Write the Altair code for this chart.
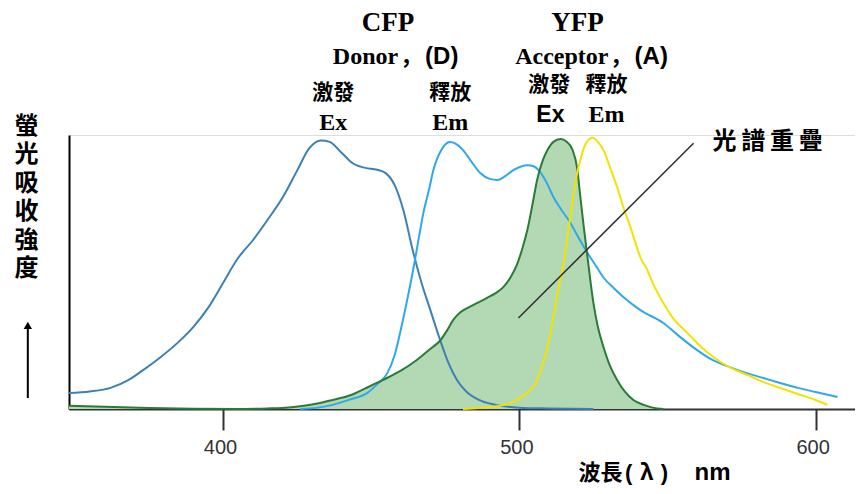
import altair as alt
import pandas as pd

# ---------------- data ----------------
cfp_ex_nm = [348, 355, 362, 368, 373, 379, 385, 390, 395, 400, 405, 410, 415, 420, 425, 429, 433,
             436, 440, 444, 448, 452, 455, 458, 461, 464, 467, 470, 473, 476, 479, 482, 486, 492,
             500, 510, 525]
cfp_ex_v = [0.058, 0.064, 0.077, 0.105, 0.142, 0.19, 0.245, 0.30, 0.37, 0.46, 0.55, 0.615, 0.69,
            0.77, 0.87, 0.95, 0.98, 0.975, 0.935, 0.895, 0.88, 0.873, 0.86, 0.815, 0.72, 0.58,
            0.46, 0.36, 0.26, 0.17, 0.105, 0.065, 0.035, 0.015, 0.005, 0.002, 0.0]

cfp_em_nm = [426, 432, 437, 443, 448.6, 452, 455.4, 458, 460, 462, 464.2, 466, 467.6, 469.5, 471,
             474.3, 476.7, 479, 481, 484, 486.8, 490, 492.6, 495, 498, 502.7, 505, 507, 509.5,
             511.5, 514, 517.2, 520, 523, 526, 528.4, 532, 535, 541, 548.6, 554, 560, 565, 571,
             577, 582.4, 588, 594, 600, 607.4]
cfp_em_v = [0.0, 0.005, 0.015, 0.035, 0.058, 0.09, 0.13, 0.2, 0.29, 0.39, 0.51, 0.62, 0.715, 0.80,
            0.872, 0.956, 0.974, 0.965, 0.945, 0.9, 0.861, 0.84, 0.836, 0.848, 0.872, 0.89, 0.885,
            0.865, 0.82, 0.774, 0.73, 0.68, 0.625, 0.57, 0.52, 0.48, 0.44, 0.41, 0.36, 0.314,
            0.265, 0.215, 0.18, 0.153, 0.13, 0.113, 0.095, 0.077, 0.062, 0.044]

yfp_ex_nm = [348, 360, 375, 390, 405, 415, 420, 426, 431.8, 437, 443, 448, 454, 460, 465.5, 470,
             473.3, 475.5, 477.7, 480, 482.4, 486, 489, 492, 494.6, 497, 499.3, 501, 502.7, 504.5,
             506, 508, 509.5, 511.5, 513.9, 516, 518, 519.5, 520.6, 521.8, 523, 525, 526.5, 528.4,
             530.5, 533, 535.5, 538.5, 542, 545, 548.6]
yfp_ex_v = [0.012, 0.008, 0.004, 0.001, 0.0, 0.002, 0.004, 0.01, 0.02, 0.033, 0.05, 0.075, 0.106,
            0.14, 0.18, 0.22, 0.25, 0.285, 0.325, 0.352, 0.368, 0.388, 0.405, 0.423, 0.445, 0.48,
            0.53, 0.585, 0.653, 0.75, 0.836, 0.91, 0.945, 0.975, 0.985, 0.975, 0.945, 0.88, 0.774,
            0.66, 0.555, 0.387, 0.30, 0.226, 0.16, 0.106, 0.065, 0.033, 0.015, 0.005, 0.0]

yfp_em_nm = [481, 490, 495, 499.3, 502, 504.7, 506.5, 508, 510, 511.5, 513, 514.9, 516.5, 518.2,
             519.5, 520.6, 522.5, 524.7, 526.5, 528.4, 530.5, 533, 535, 537.5, 541, 543.2, 545,
             548.6, 552, 556.8, 561, 565.5, 571, 577, 582, 588, 594, 600, 604]
yfp_em_v = [0.0, 0.007, 0.015, 0.033, 0.055, 0.08, 0.12, 0.168, 0.25, 0.336, 0.43, 0.53, 0.65,
            0.774, 0.86, 0.91, 0.97, 0.99, 0.975, 0.945, 0.885, 0.81, 0.74, 0.664, 0.55, 0.507,
            0.46, 0.387, 0.33, 0.277, 0.23, 0.19, 0.152, 0.124, 0.1, 0.077, 0.055, 0.033, 0.015]

series_names = ["CFP 激發", "CFP 釋放", "YFP 激發", "YFP 釋放"]
series_colors = ["#3c80b4", "#2ea8ec", "#2a7a38", "#f2e300"]
tick_values = [400, 500, 600]

y_title_chars = ["螢", "光", "吸", "收", "強", "度"]

# ---------------- tables ----------------
rows = []
for name, xs, ys in zip(series_names,
                        [cfp_ex_nm, cfp_em_nm, yfp_ex_nm, yfp_em_nm],
                        [cfp_ex_v, cfp_em_v, yfp_ex_v, yfp_em_v]):
    rows += [{"series": name, "nm": a, "v": b} for a, b in zip(xs, ys)]
df = pd.DataFrame(rows)
df_fill = df[df.series == "YFP 激發"]

SERIF = "'Liberation Serif', serif"
SANS = "'Liberation Sans', sans-serif"
CJK = "'Noto Sans CJK TC', sans-serif"
CJK_SC = "'Noto Sans CJK SC', sans-serif"

X = alt.X("nm:Q",
          scale=alt.Scale(domain=[348, 613.3], nice=False, zero=False),
          axis=alt.Axis(values=tick_values, format="d", title=None,
                        labelFont=SANS, labelFontSize=20, labelColor="#333",
                        labelPadding=7, labelOffset=-3, tickSize=21, tickWidth=2,
                        tickColor="#333", domainColor="#333", domainWidth=2, grid=False))
Y = alt.Y("v:Q",
          scale=alt.Scale(domain=[0, 1], nice=False),
          axis=alt.Axis(title=y_title_chars, titleAngle=0, titleX=-43, titleY=-21,
                        titleAlign="center", titleBaseline="top", titleFont=CJK,
                        titleFontSize=24, titleFontWeight="bold", titleColor="black",
                        titleLineHeight=28.5, ticks=False, labels=False, grid=False,
                        domainColor="black", domainWidth=2))

area = alt.Chart(df_fill).mark_area(color="#b3d9b4", interpolate="monotone").encode(x=X, y=Y)

lines = alt.Chart(df).mark_line(strokeWidth=2, interpolate="monotone").encode(
    x=X, y=Y,
    color=alt.Color("series:N", scale=alt.Scale(domain=series_names, range=series_colors),
                    legend=None))

# overlap pointer line
pointer = alt.Chart(pd.DataFrame({"nm": [499.7], "v": [0.332], "nm2": [558.8], "v2": [0.97]})
                    ).mark_rule(color="#333", strokeWidth=1.6).encode(
    x=X, y=Y, x2="nm2:Q", y2="v2:Q")

# y arrow
arrow_line = alt.Chart(pd.DataFrame({"nm": [334.1], "v": [0.04], "v2": [0.30]})).mark_rule(
    color="black", strokeWidth=2).encode(x=X, y=Y, y2="v2:Q")
arrow_head = alt.Chart(pd.DataFrame({"nm": [334.1], "v": [0.305]})).mark_point(
    shape="triangle-up", filled=True, color="black", size=70, opacity=1).encode(x=X, y=Y)


def texts(d, font, align="center"):
    return alt.Chart(pd.DataFrame(d)).mark_text(
        font=font, fontWeight="bold", align=align, baseline="middle", color="black"
    ).encode(x=X, y=Y, text="t:N", size=alt.Size("fs:Q", scale=None))


TITLE_V = -0.232

serif_c = texts({"t": ["CFP", "YFP", "Ex", "Em", "Em"],
                 "nm": [455.7, 519.6, 437.2, 476.7, 529.4],
                 "v": [1.407, 1.407, 1.044, 1.044, 1.073],
                 "fs": [27, 27, 24, 24, 24]}, SERIF)
serif_r = texts({"t": ["Donor", "Acceptor"],
                 "nm": [459.1, 530.1], "v": [1.285, 1.285], "fs": [24, 24]}, SERIF, "right")
comma_l = texts({"t": ["，", "，"],
                 "nm": [459.8, 530.6], "v": [1.285, 1.285], "fs": [22, 22]}, CJK_SC, "left")
sans_l = texts({"t": ["(D)", "(A)"],
                "nm": [468.2, 538.9], "v": [1.285, 1.285], "fs": [24, 24]}, SANS, "left")
sans_c = texts({"t": ["Ex", "(", ")", "nm"],
                "nm": [510.5, 536.9, 549.0, 565.2],
                "v": [1.073, TITLE_V, TITLE_V, TITLE_V],
                "fs": [23, 22, 22, 24]}, SANS)
cjk_c = texts({"t": ["激發", "釋放", "激發", "釋放", "光\u2009譜\u2009重\u2009疊",
                     "波長", "λ"],
               "nm": [437.2, 476.7, 510.1, 529.4, 583.8, 527.4, 543.0],
               "v": [1.153, 1.153, 1.1825, 1.1825, 0.9745, TITLE_V, TITLE_V],
               "fs": [21, 21, 21, 21, 24, 22, 22]}, CJK)

chart = alt.layer(area, lines, pointer, arrow_line, arrow_head,
                  serif_c, serif_r, comma_l, sans_l, sans_c, cjk_c).properties(
    width=786, height=274,
    padding={"left": 61, "top": 127, "right": 0, "bottom": 76},
    autosize="none",
).configure_view(stroke=None).configure(background="white")

chart.save("out.html", embed_options={"renderer": "svg", "actions": False})
